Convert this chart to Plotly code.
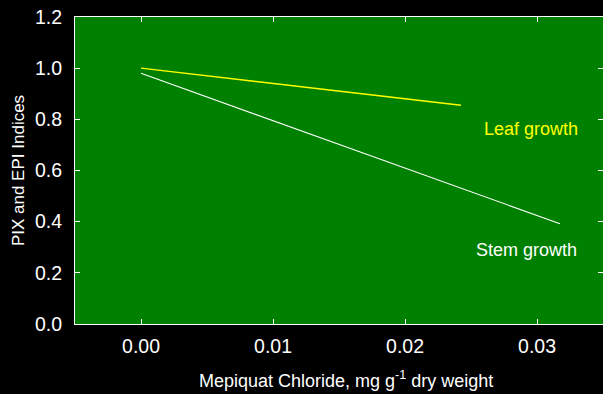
import plotly.graph_objects as go

# Mepiquat chloride dose (mg per g dry weight) and relative growth indices
leaf_dose = [0.0, 0.02424]
leaf_index = [1.0, 0.855]
stem_dose = [0.0, 0.03174]
stem_index = [0.98, 0.392]

x_ticks = [0.00, 0.01, 0.02, 0.03]
x_tick_text = ["0.00", "0.01", "0.02", "0.03"]
y_ticks = [0.0, 0.2, 0.4, 0.6, 0.8, 1.0, 1.2]
y_tick_text = ["0.0", "0.2", "0.4", "0.6", "0.8", "1.0", "1.2"]

FONT = "Arial, Liberation Sans, sans-serif"

fig = go.Figure()
fig.add_trace(go.Scatter(x=leaf_dose, y=leaf_index, mode="lines",
                         line=dict(color="#ffff00", width=1.3),
                         showlegend=False, hoverinfo="skip"))
fig.add_trace(go.Scatter(x=stem_dose, y=stem_index, mode="lines",
                         line=dict(color="#ffffff", width=1.1),
                         showlegend=False, hoverinfo="skip"))
# invisible trace so the right-hand tick axis is rendered
fig.add_trace(go.Scatter(x=[0], y=[0], yaxis="y2", mode="markers",
                         marker=dict(opacity=0), showlegend=False,
                         hoverinfo="skip"))

fig.add_annotation(x=0.02955, y=0.761, text="Leaf growth", showarrow=False,
                   font=dict(color="#ffff00", size=18, family=FONT))
fig.add_annotation(x=0.0292, y=0.29, text="Stem growth", showarrow=False,
                   font=dict(color="#ffffff", size=18, family=FONT))

# x-axis title, placed as a paper annotation below the tick labels
fig.add_annotation(x=0.513, y=0, xref="paper", yref="paper",
                   xanchor="center", yanchor="bottom", yshift=-69,
                   text="Mepiquat Chloride, mg g<sup>-1</sup> dry weight",
                   showarrow=False,
                   font=dict(color="#ffffff", size=18, family=FONT))

fig.update_layout(
    width=603, height=394,
    margin=dict(l=75, r=0, t=17, b=70),
    paper_bgcolor="#000000",
    plot_bgcolor="#008000",
    font=dict(family=FONT, color="#ffffff", size=19),
    xaxis=dict(
        range=[-0.005, 0.035],
        tickvals=x_ticks, ticktext=x_tick_text,
        ticks="inside", ticklen=5, tickcolor="#ffffff",
        showline=True, linecolor="#ffffff", linewidth=1,
        mirror="ticks", showgrid=False, zeroline=False,
        ticklabelstandoff=5,
        tickfont=dict(size=19.5, color="#ffffff"),
    ),
    yaxis=dict(
        range=[0, 1.2],
        tickvals=y_ticks, ticktext=y_tick_text,
        ticks="inside", ticklen=5, tickcolor="#ffffff",
        showline=True, linecolor="#ffffff", linewidth=1,
        showgrid=False, zeroline=False,
        ticklabelstandoff=8,
        tickfont=dict(size=19.5, color="#ffffff"),
        title=dict(text="PIX and EPI Indices",
                   font=dict(size=17, color="#ffffff"), standoff=6),
    ),
    yaxis2=dict(
        range=[0, 1.2], overlaying="y", side="right",
        tickvals=y_ticks, ticks="inside", ticklen=5, tickcolor="#ffffff",
        showticklabels=False, showline=False, showgrid=False, zeroline=False,
    ),
)

fig.write_html("out.html")
